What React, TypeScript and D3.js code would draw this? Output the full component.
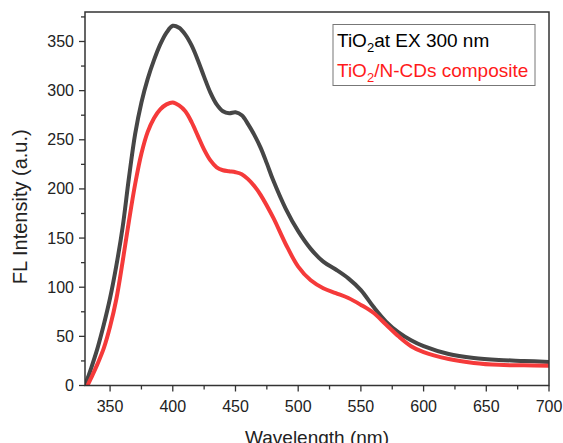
import React from "react";
import * as d3 from "d3";

const wavelengths = [330, 335, 340, 345, 350, 355, 360, 365, 370, 375, 380, 385, 390, 395, 400, 405, 410, 415, 420, 425, 430, 435, 440, 445, 450, 455, 460, 465, 470, 475, 480, 490, 500, 510, 520, 530, 540, 550, 560, 570, 580, 590, 600, 620, 640, 660, 680, 700];

const tio2Values = [0, 18, 38, 62, 89, 122, 161, 211, 256, 288, 312, 331, 347, 359, 366, 364, 357, 346, 331, 314, 298, 286, 279, 277, 278, 275, 266, 255, 242, 226, 209, 180, 157, 139, 126, 118, 109, 97, 80, 65, 54, 46, 40, 32, 28, 26, 25, 24];

const compositeWavelengths = [332, 335, 340, 345, 350, 355, 360, 365, 370, 375, 380, 385, 390, 395, 400, 405, 410, 415, 420, 425, 430, 435, 440, 445, 450, 455, 460, 465, 470, 480, 490, 500, 510, 520, 530, 540, 550, 560, 570, 580, 590, 600, 620, 640, 660, 680, 700];
const compositeValues = [0, 8, 22, 38, 60, 88, 126, 167, 205, 236, 258, 272, 281, 286, 288, 285, 279, 268, 254, 240, 229, 222, 219, 218, 217, 215, 210, 203, 194, 171, 144, 121, 107, 99, 94, 89, 82, 74, 62, 50, 40, 34, 27, 23, 21, 20.5, 20];

const xTicks = [350, 400, 450, 500, 550, 600, 650, 700];
const xMinorTicks = [375, 425, 475, 525, 575, 625, 675];
const yTicks = [0, 50, 100, 150, 200, 250, 300, 350];
const yMinorTicks = [25, 75, 125, 175, 225, 275, 325, 375];

const W = 563, H = 443;
const M = { left: 85, right: 549, top: 12, bottom: 385.5 };
const FONT = "'Liberation Sans', Arial, sans-serif";
const AXIS = "#333";
const BLACK = "#464646";
const RED = "#f53a3a";

export default function App() {
  const x = d3.scaleLinear().domain([330, 700]).range([M.left, M.right]);
  const y = d3.scaleLinear().domain([0, 380]).range([M.bottom, M.top]);
  const line = d3
    .line<[number, number]>()
    .x((d) => x(d[0]))
    .y((d) => y(d[1]))
    .curve(d3.curveCatmullRom.alpha(0.5));
  const black = line(wavelengths.map((w, i) => [w, tio2Values[i]] as [number, number])) || "";
  const red = line(compositeWavelengths.map((w, i) => [w, compositeValues[i]] as [number, number])) || "";

  return (
    <svg width={W} height={H} style={{ position: "absolute", left: 0, top: 0, background: "#fff" }} fontFamily={FONT}>
      <defs>
        <clipPath id="plot">
          <rect x={M.left} y={M.top} width={M.right - M.left} height={M.bottom - M.top} />
        </clipPath>
      </defs>
      <g clipPath="url(#plot)">
        <path d={black} fill="none" stroke={BLACK} strokeWidth={4} strokeLinejoin="round" />
        <path d={red} fill="none" stroke={RED} strokeWidth={4} strokeLinejoin="round" />
      </g>
      <rect x={M.left} y={M.top} width={M.right - M.left} height={M.bottom - M.top} fill="none" stroke={AXIS} strokeWidth={1.5} />
      {xTicks.map((t) => (
        <g key={"xt" + t}>
          <line x1={x(t)} x2={x(t)} y1={M.bottom} y2={M.bottom + 6} stroke={AXIS} strokeWidth={1.3} />
          <text x={x(t)} y={412} textAnchor="middle" fontSize={16} fill="#222">{t}</text>
        </g>
      ))}
      {xMinorTicks.map((t) => (
        <line key={"xm" + t} x1={x(t)} x2={x(t)} y1={M.bottom} y2={M.bottom + 4} stroke={AXIS} strokeWidth={1.3} />
      ))}
      {yTicks.map((t) => (
        <g key={"yt" + t}>
          <line x1={M.left - 6} x2={M.left} y1={y(t)} y2={y(t)} stroke={AXIS} strokeWidth={1.3} />
          <text x={74} y={y(t) + 5.5} textAnchor="end" fontSize={16} fill="#222">{t}</text>
        </g>
      ))}
      {yMinorTicks.map((t) => (
        <line key={"ym" + t} x1={M.left - 4} x2={M.left} y1={y(t)} y2={y(t)} stroke={AXIS} strokeWidth={1.3} />
      ))}
      <text x={(M.left + M.right) / 2} y={444} textAnchor="middle" fontSize={19} fill="#222">Wavelength (nm)</text>
      <text transform={`translate(27, ${(M.top + M.bottom) / 2 + 8}) rotate(-90)`} textAnchor="middle" fontSize={20} fill="#222">FL Intensity (a.u.)</text>
      <rect x={333} y={24.5} width={202} height={61} fill="#fff" stroke="#777" strokeWidth={1} />
      <text x={337} y={47} fontSize={19} fill="#000">
        TiO<tspan fontSize={13} dy={5}>2</tspan><tspan dy={-5}>at EX 300 nm</tspan>
      </text>
      <text x={337} y={77} fontSize={19} fill="#ff1a1a">
        TiO<tspan fontSize={13} dy={5}>2</tspan><tspan dy={-5}>/N-CDs composite</tspan>
      </text>
    </svg>
  );
}
